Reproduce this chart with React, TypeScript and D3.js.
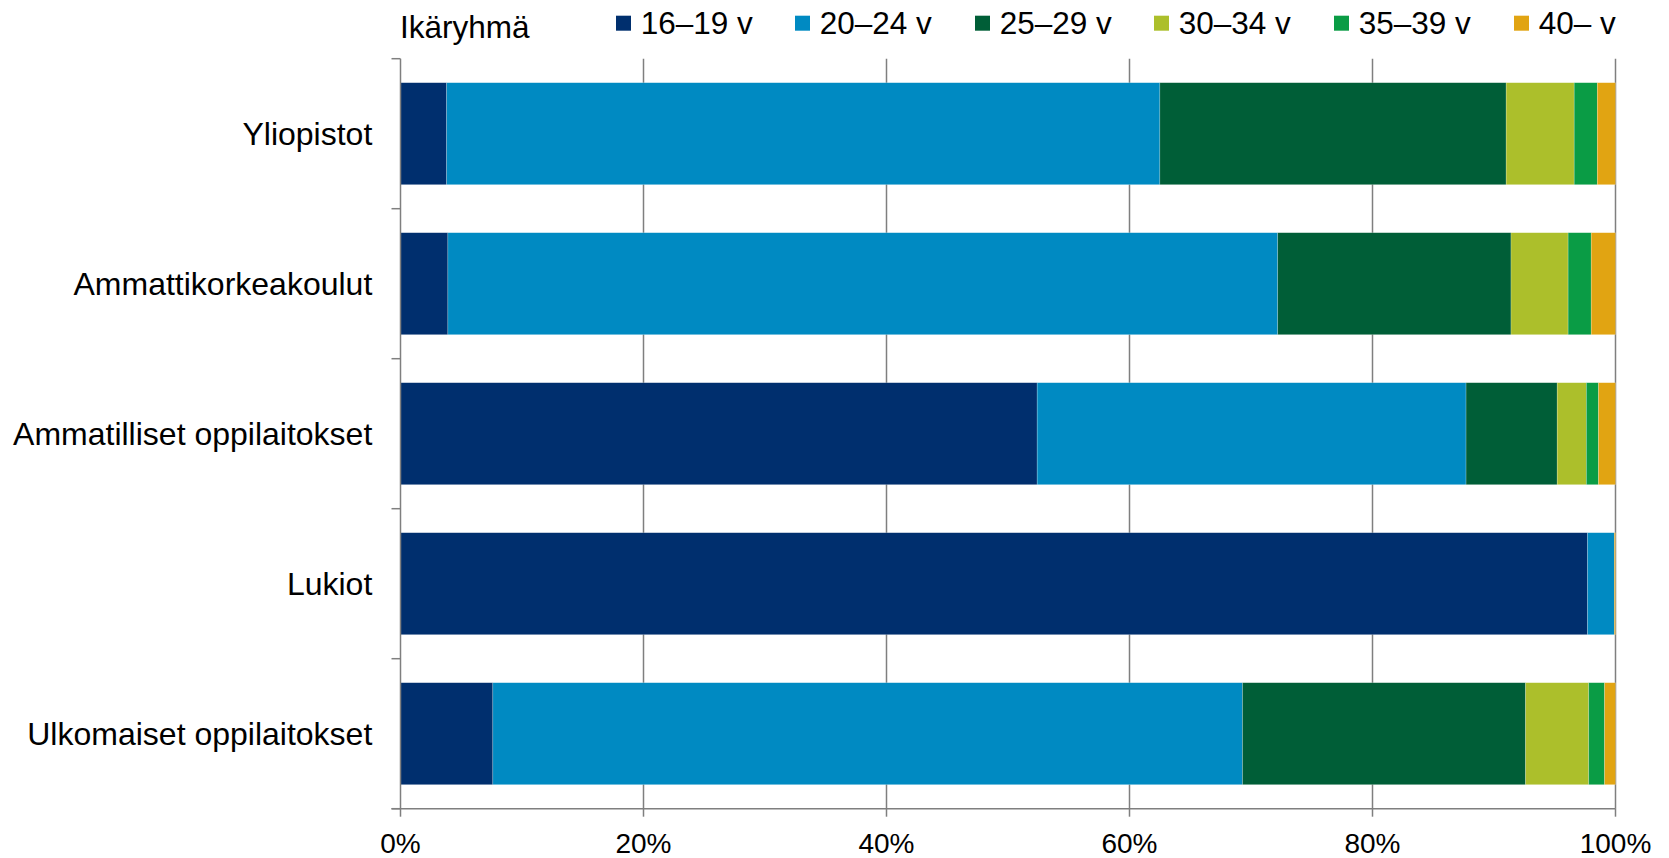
import React from "react";
import * as d3 from "d3";

const categories = [
  "Yliopistot",
  "Ammattikorkeakoulut",
  "Ammatilliset oppilaitokset",
  "Lukiot",
  "Ulkomaiset oppilaitokset",
];

const seriesNames = ["16–19 v", "20–24 v", "25–29 v", "30–34 v", "35–39 v", "40– v"];
const seriesColors = ["#002F6E", "#008AC2", "#005E37", "#ACBF2B", "#0A9C45", "#E1A412"];

const age16_19 = [3.8, 3.9, 52.4, 97.7, 7.6];
const age20_24 = [58.7, 68.3, 35.3, 2.2, 61.7];
const age25_29 = [28.5, 19.2, 7.5, 0.0, 23.3];
const age30_34 = [5.6, 4.7, 2.4, 0.0, 5.2];
const age35_39 = [1.9, 1.9, 1.0, 0.0, 1.3];
const age40 = [1.5, 2.0, 1.4, 0.1, 0.9];

const xTicks = [0, 20, 40, 60, 80, 100];
const legendTitle = "Ikäryhmä";

const seriesValues = [age16_19, age20_24, age25_29, age30_34, age35_39, age40];

export default function App() {
  const W = 1669;
  const H = 858;
  const x0 = 400.5;
  const x1 = 1615.5;
  const yTop = 58.7;
  const yBot = 808.7;
  const font = "'Liberation Sans', Arial, sans-serif";

  const x = d3.scaleLinear().domain([0, 100]).range([x0, x1]);
  const y = d3
    .scaleBand<string>()
    .domain(categories)
    .range([yTop, yBot])
    .paddingInner(0.32)
    .paddingOuter(0.16);

  const rows = categories.map((c, i) => {
    const r: Record<string, any> = { cat: c };
    seriesNames.forEach((s, j) => (r[s] = seriesValues[j][i]));
    return r;
  });
  const stacked = d3.stack<any>().keys(seriesNames)(rows);

  const step = y.step();
  const boundaries = d3.range(categories.length + 1).map((i) => yTop + i * step);

  const axisColor = "#7F7F7F";
  const legendX = [616, 795, 975, 1154, 1334, 1514];

  return (
    <svg
      width={W}
      height={H}
      style={{ position: "absolute", left: 0, top: 0, background: "#fff" }}
      fontFamily={font}
    >
      <rect x={0} y={0} width={W} height={H} fill="#fff" />
      {/* gridlines */}
      {xTicks
        .filter((t) => t > 0)
        .map((t) => (
          <line
            key={"g" + t}
            x1={x(t)}
            x2={x(t)}
            y1={yTop}
            y2={yBot}
            stroke={axisColor}
            strokeWidth={1.5}
          />
        ))}
      {/* bars */}
      {stacked.map((layer, j) => (
        <g key={layer.key} fill={seriesColors[j]}>
          {layer.map((d, i) => {
            const w = x(d[1]) - x(d[0]);
            if (w <= 0) return null;
            return (
              <rect
                key={i}
                x={x(d[0])}
                y={y(categories[i])}
                width={w}
                height={y.bandwidth()}
                stroke="#ffffff"
                strokeOpacity={0.35}
                strokeWidth={0.6}
              />
            );
          })}
        </g>
      ))}
      {/* y axis */}
      <line x1={x0} x2={x0} y1={yTop} y2={yBot} stroke={axisColor} strokeWidth={1.5} />
      {boundaries.map((b, i) => (
        <line key={"yt" + i} x1={x0 - 9} x2={x0} y1={b} y2={b} stroke={axisColor} strokeWidth={1.5} />
      ))}
      {/* x axis */}
      <line x1={x0 - 9} x2={x1} y1={yBot} y2={yBot} stroke={axisColor} strokeWidth={1.5} />
      {xTicks.map((t) => (
        <g key={"xt" + t}>
          <line x1={x(t)} x2={x(t)} y1={yBot} y2={yBot + 8} stroke={axisColor} strokeWidth={1.5} />
          <text x={x(t)} y={852.5} fontSize={28} textAnchor="middle" fill="#000">
            {t + "%"}
          </text>
        </g>
      ))}
      {/* category labels */}
      {categories.map((c) => (
        <text
          key={c}
          x={372.3}
          y={(y(c) as number) + y.bandwidth() / 2}
          dy="0.355em"
          fontSize={32}
          textAnchor="end"
          fill="#000"
        >
          {c}
        </text>
      ))}
      {/* legend */}
      <text x={400} y={37.7} fontSize={31.5} fill="#000">
        {legendTitle}
      </text>
      {seriesNames.map((s, j) => (
        <g key={"lg" + s}>
          <rect x={legendX[j]} y={15.7} width={15} height={15} fill={seriesColors[j]} />
          <text x={legendX[j] + 24.7} y={34.3} fontSize={31.5} fill="#000">
            {s}
          </text>
        </g>
      ))}
    </svg>
  );
}
